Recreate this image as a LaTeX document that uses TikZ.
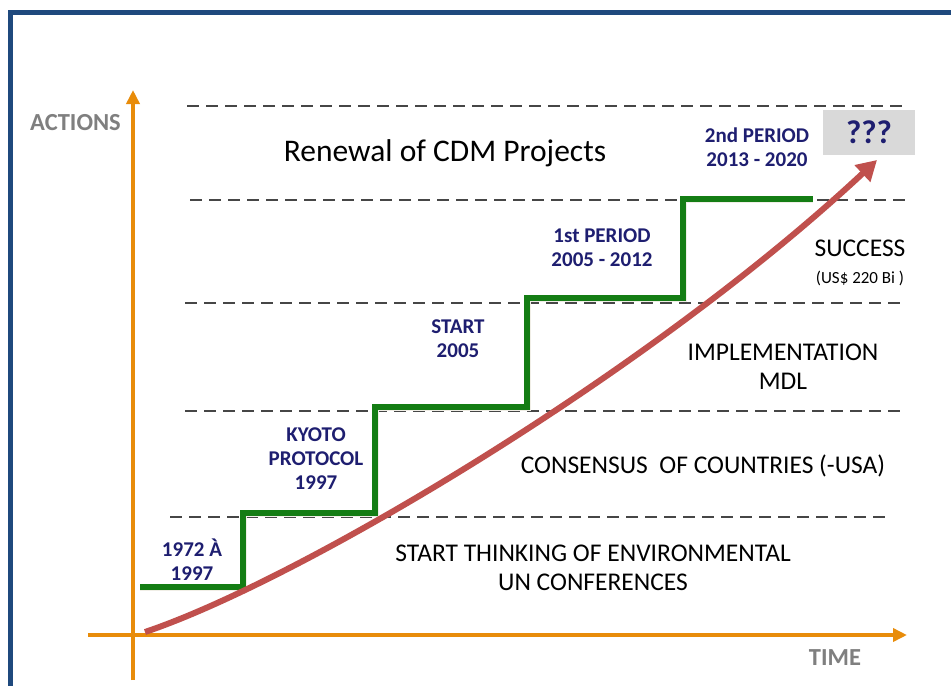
\documentclass[tikz,border=0pt]{standalone}
\usepackage{fontspec}
\setmainfont{Carlito}
\usetikzlibrary{arrows.meta}
\definecolor{framebl}{RGB}{31,73,125}
\definecolor{axisor}{RGB}{232,140,10}
\definecolor{stepgr}{RGB}{20,125,20}
\definecolor{trendrd}{RGB}{192,80,77}
\definecolor{navytx}{RGB}{30,30,112}
\definecolor{dashgr}{RGB}{70,70,70}
\definecolor{shadowgy}{RGB}{240,238,230}
\definecolor{boxgy}{RGB}{217,217,217}
\definecolor{axistx}{RGB}{127,127,127}
\tikzset{
  level/.style={draw=dashgr, line width=1.6pt, dash pattern=on 12pt off 7pt},
  axisline/.style={draw=axisor, line width=4pt},
  milestone/.style={text=navytx, font=\bfseries\fontsize{21}{24}\selectfont, align=center, inner sep=0pt},
  phase/.style={text=black, font=\fontsize{25.5}{29}\selectfont, align=center, inner sep=0pt},
  axislabel/.style={text=axistx, font=\bfseries\fontsize{24.5}{26}\selectfont, inner sep=0pt},
}
\begin{document}
\begin{tikzpicture}[x=1pt,y=-1pt]
\useasboundingbox (0,0) rectangle (951,686);
\fill[white] (0,0) rectangle (951,686);
% outer frame
\fill[framebl] (8,10) rectangle (951,15);
\fill[framebl] (8,10) rectangle (13,686);

% level lines
\coordinate (l0a) at (187,106); \coordinate (l0b) at (905,106);
\coordinate (l1a) at (190,200); \coordinate (l1b) at (905,200);
\coordinate (l2a) at (185,303); \coordinate (l2b) at (905,303);
\coordinate (l3a) at (185,411); \coordinate (l3b) at (905,411);
\coordinate (l4a) at (170,517); \coordinate (l4b) at (885,517);
\foreach \i in {0,...,4} \draw[level] (l\i a) -- (l\i b);

% axes
\coordinate (yb) at (133,680); \coordinate (yt) at (133,90);
\coordinate (xl) at (88,635); \coordinate (xr) at (907,635);
\draw[axisline, -{Triangle[length=14pt,width=13pt]}] (yb) -- (yt);
\draw[axisline, -{Triangle[length=14pt,width=13pt]}] (xl) -- (xr);
\node[axislabel, anchor=east] (actions) at (121,123) {ACTIONS};
\node[axislabel] (time) at (835,658) {TIME};

% staircase shadow and staircase
\coordinate (s0) at (140,587);
\coordinate (s1) at (243,587);
\coordinate (s2) at (243,513);
\coordinate (s3) at (375,513);
\coordinate (s4) at (375,407);
\coordinate (s5) at (527,407);
\coordinate (s6) at (527,298);
\coordinate (s7) at (683,298);
\coordinate (s8) at (683,199);
\coordinate (s9) at (813,199);
\draw[shadowgy, line width=7pt, xshift=8pt, yshift=-8pt]
  (s0) -- (s1) -- (s2) -- (s3) -- (s4) -- (s5) -- (s6) -- (s7) -- (s8) -- (s9);
\draw[stepgr, line width=6pt, line join=miter]
  (s0) -- (s1) -- (s2) -- (s3) -- (s4) -- (s5) -- (s6) -- (s7) -- (s8) -- (s9);

% growth trend
\coordinate (r0) at (145,632);
\coordinate (r3) at (877,160);
\draw[trendrd, line width=6pt, -{Triangle[length=20pt,width=22pt]}]
  (r0) .. controls (300,580) and (650,372) .. (r3);

% outcome box
\node[fill=boxgy, minimum width=92pt, minimum height=45pt, inner sep=0pt,
      text=navytx, font=\bfseries\fontsize{33}{36}\selectfont] (q) at (869,132) {???};

% milestones
\node[milestone] (m1) at (192,560) {1972 À\\1997};
\node[milestone] (m2) at (316,459) {KYOTO\\PROTOCOL\\1997};
\node[milestone] (m3) at (458,339) {START\\2005};
\node[milestone] (m4) at (602,248) {1st PERIOD\\2005 - 2012};
\node[milestone] (m5) at (757,147) {2nd PERIOD\\2013 - 2020};

% phases
\node[phase, font=\fontsize{31.5}{34}\selectfont] (renew) at (445,153) {Renewal of CDM Projects};
\node[phase] (succ) at (860,248) {SUCCESS};
\node[phase, font=\fontsize{17}{20}\selectfont] (usd) at (860,278) {(US\$ 220 Bi )};
\node[phase] (impl) at (783,367) {IMPLEMENTATION\\MDL};
\node[phase] (cons) at (703,466) {CONSENSUS\ \ OF COUNTRIES (-USA)};
\node[phase] (think) at (593,568) {START THINKING OF ENVIRONMENTAL\\UN CONFERENCES};
\end{tikzpicture}
\end{document}
